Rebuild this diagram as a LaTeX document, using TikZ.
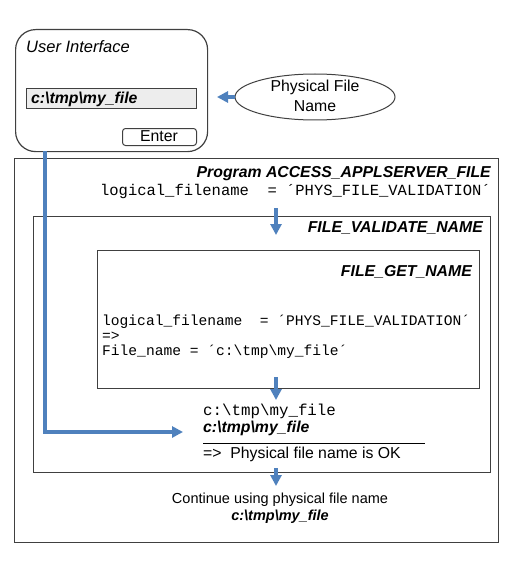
\documentclass[tikz,border=0pt]{standalone}
\usepackage{fontspec}
\setmainfont{Liberation Sans}
\setmonofont{Liberation Mono}
\usetikzlibrary{arrows.meta,shapes.geometric}
\definecolor{arrowblue}{HTML}{4F81BD}
\definecolor{boxline}{HTML}{404040}
\definecolor{fieldgray}{HTML}{EDEDED}
\begin{document}
\begin{tikzpicture}[x=1pt,y=-1pt,
  box/.style={draw=boxline, line width=1.2pt, inner sep=0pt},
  thinbox/.style={draw=boxline, line width=1pt, inner sep=0pt},
  txt/.style={inner sep=0pt, font=\fontsize{15.8}{18}\selectfont},
  itxt/.style={inner sep=0pt, font=\fontsize{16.5}{18}\selectfont\itshape},
  lbl/.style={inner sep=0pt, font=\fontsize{15.8}{18}\selectfont\bfseries\itshape},
  smalltxt/.style={inner sep=0pt, font=\fontsize{14.5}{17}\selectfont},
  smalllbl/.style={inner sep=0pt, font=\fontsize{14.5}{17}\selectfont\bfseries\itshape},
  code/.style={inner sep=0pt, font=\fontsize{15.5}{18}\selectfont\ttfamily},
  smallcode/.style={inner sep=0pt, font=\fontsize{14.6}{17}\selectfont\ttfamily},
  bigcode/.style={inner sep=0pt, font=\fontsize{15.8}{18}\selectfont\ttfamily},
  flow/.style={draw=arrowblue, line width=3.5pt, line join=miter, -{Triangle[length=11pt,width=11pt]}}
]
\useasboundingbox (0,0) rectangle (529,567);

% User interface
\node[box, rounded corners=20pt, minimum width=192pt, minimum height=122pt, anchor=north west] (ui) at (15,29) {};
\node[itxt, anchor=base west] (uititle) at (26,53) {User Interface};
\node[thinbox, fill=fieldgray, minimum width=170pt, minimum height=20pt, anchor=north west] (field) at (26,88) {};
\node[lbl, anchor=base west] (fieldtxt) at (31,103) {c:\textbackslash tmp\textbackslash my\_file};
\node[thinbox, rounded corners=3pt, minimum width=74pt, minimum height=17pt, anchor=north west] (enter) at (122,128) {};
\node[txt, anchor=base] (entertxt) at (159,142) {Enter};

% Physical file name ellipse
\node[thinbox, ellipse, minimum width=160pt, minimum height=46pt] (phys) at (315,97) {};
\node[txt, anchor=base] (phys1) at (315,92) {Physical File};
\node[txt, anchor=base] (phys2) at (315,111) {Name};
\coordinate (fieldin) at (217,97);
\draw[flow] (phys.west) -- (fieldin);

% Program box
\node[box, minimum width=484pt, minimum height=384pt, anchor=north west] (prog) at (14,158) {};
\node[lbl, anchor=base east] (progtitle) at (491,177) {Program ACCESS\_APPLSERVER\_FILE};
\node[code, anchor=base east] (proglogic) at (491,195) {logical\_filename\ \ =\ ´PHYS\_FILE\_VALIDATION´};

% FILE_VALIDATE_NAME box
\node[box, minimum width=457pt, minimum height=256pt, anchor=north west] (validate) at (33,216) {};
\node[lbl, anchor=base east] (valtitle) at (483,232) {FILE\_VALIDATE\_NAME};
\coordinate (a1s) at (276,208);
\coordinate (a1e) at (276,235);
\draw[flow] (a1s) -- (a1e);

% FILE_GET_NAME box
\node[box, minimum width=382pt, minimum height=138pt, anchor=north west] (getname) at (97,250) {};
\node[lbl, anchor=base east] (gettitle) at (472,276) {FILE\_GET\_NAME};
\node[smallcode, anchor=base west] (getl1) at (102,325) {logical\_filename\ \ =\ ´PHYS\_FILE\_VALIDATION´};
\node[smallcode, anchor=base west] (getl2) at (102,340) {=>};
\node[smallcode, anchor=base west] (getl3) at (102,355) {File\_name = ´c:\textbackslash tmp\textbackslash my\_file´};
\coordinate (a2s) at (276,377);
\coordinate (a2e) at (276,400);
\draw[flow] (a2s) -- (a2e);

% check result
\node[bigcode, anchor=base west] (res1) at (203,415) {c:\textbackslash tmp\textbackslash my\_file};
\node[lbl, anchor=base west] (res2) at (203,432) {c:\textbackslash tmp\textbackslash my\_file};
\coordinate (rulel) at (203,443);
\coordinate (ruler) at (425,443);
\draw[black, line width=1pt] (rulel) -- (ruler);
\node[txt, anchor=base west] (res3) at (203,458) {=>\ \ Physical file name is OK};

% continue
\coordinate (a3s) at (276,468);
\coordinate (a3e) at (276,486);
\draw[flow] (a3s) -- (a3e);
\node[smalltxt, anchor=base] (cont1) at (280,503) {Continue using physical file name};
\node[smalllbl, anchor=base] (cont2) at (280,520) {c:\textbackslash tmp\textbackslash my\_file};

% connector from UI to check
\coordinate (uiout) at (45,151);
\coordinate (checkin) at (183,432);
\draw[flow] (uiout) |- (checkin);
\end{tikzpicture}
\end{document}
